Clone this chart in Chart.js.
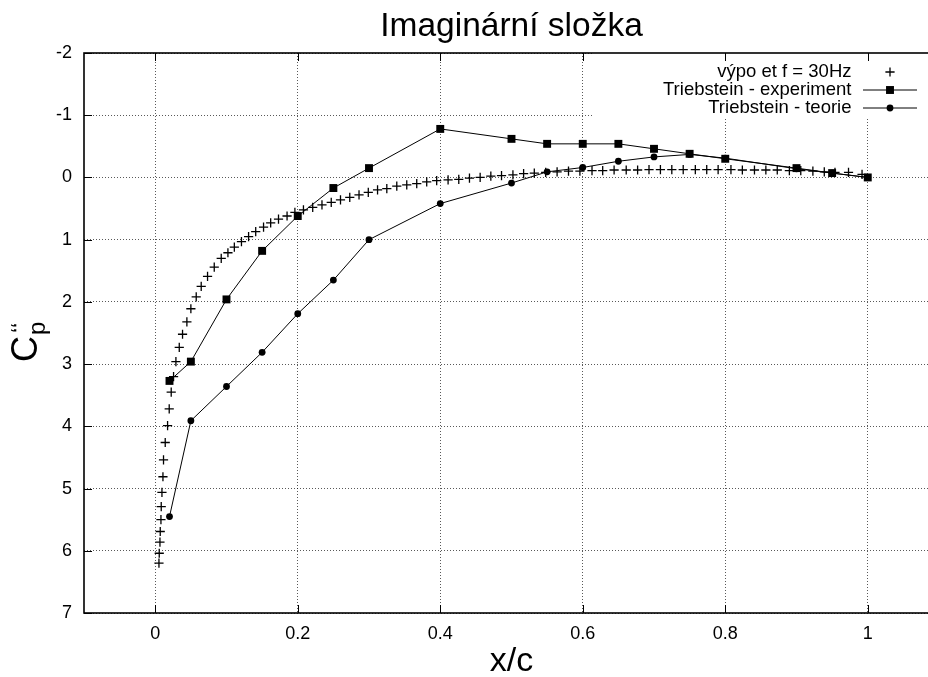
<!DOCTYPE html>
<html>
<head>
<meta charset="utf-8">
<script src="https://cdn.jsdelivr.net/npm/chart.js@4/dist/chart.umd.min.js"></script>
<style>
  html, body { margin: 0; padding: 0; background: #fff; overflow: hidden; }
  #wrap { width: 945px; height: 677px; }
</style>
</head>
<body>
<div id="wrap"><canvas id="cpChart" width="945" height="677"></canvas></div>
<script>
const FONT = '"Liberation Sans", Arial, Helvetica, sans-serif';

// Axis ticks
const xTicks = [0, 0.2, 0.4, 0.6, 0.8, 1];
const yTicks = [-2, -1, 0, 1, 2, 3, 4, 5, 6, 7];

// Computed values, f = 30 Hz
const calcX = [0.0052, 0.0056, 0.0066, 0.0070, 0.0080, 0.0084, 0.0094, 0.0108, 0.0116, 0.0140,
  0.0173, 0.0196, 0.0224, 0.0257, 0.0290, 0.0337, 0.0383, 0.0444, 0.0500, 0.0575,
  0.0645, 0.0734, 0.0828, 0.0926, 0.102, 0.111, 0.121, 0.131, 0.141, 0.152,
  0.162, 0.173, 0.185, 0.196, 0.208, 0.221, 0.234, 0.247, 0.260, 0.273,
  0.286, 0.299, 0.312, 0.325, 0.339, 0.353, 0.367, 0.381, 0.395, 0.411,
  0.426, 0.441, 0.456, 0.471, 0.486, 0.502, 0.517, 0.532, 0.548, 0.564,
  0.580, 0.596, 0.613, 0.628, 0.644, 0.661, 0.677, 0.693, 0.709, 0.725,
  0.741, 0.758, 0.774, 0.790, 0.808, 0.824, 0.841, 0.857, 0.873, 0.890,
  0.906, 0.923, 0.939, 0.954, 0.973, 0.992];
const calcY = [6.20, 6.04, 5.86, 5.69, 5.50, 5.29, 5.06, 4.81, 4.54, 4.26,
  3.99, 3.72, 3.45, 3.20, 2.96, 2.73, 2.52, 2.32, 2.11, 1.92,
  1.75, 1.59, 1.44, 1.30, 1.21, 1.12, 1.03, 0.95, 0.87, 0.80,
  0.73, 0.67, 0.62, 0.56, 0.52, 0.48, 0.44, 0.40, 0.36, 0.32,
  0.28, 0.24, 0.20, 0.18, 0.14, 0.12, 0.10, 0.07, 0.05, 0.04,
  0.03, 0.01, 0.00, -0.02, -0.03, -0.04, -0.06, -0.07, -0.08, -0.09,
  -0.10, -0.10, -0.11, -0.11, -0.12, -0.12, -0.12, -0.125, -0.125, -0.125,
  -0.125, -0.125, -0.125, -0.125, -0.125, -0.12, -0.12, -0.12, -0.12, -0.11,
  -0.11, -0.10, -0.09, -0.08, -0.08, -0.05];

// Triebstein - experiment
const expX = [0.02, 0.05, 0.1, 0.15, 0.2, 0.25, 0.3, 0.4, 0.5, 0.55, 0.6, 0.65, 0.7, 0.75, 0.8, 0.9, 0.95, 1.0];
const expY = [3.27, 2.96, 1.96, 1.18, 0.62, 0.17, -0.15, -0.78, -0.62, -0.54, -0.54, -0.54, -0.46, -0.38, -0.30, -0.15, -0.07, 0.0];

// Triebstein - teorie
const theoX = [0.02, 0.05, 0.1, 0.15, 0.2, 0.25, 0.3, 0.4, 0.5, 0.55, 0.6, 0.65, 0.7, 0.75, 0.8, 0.9, 0.95, 1.0];
const theoY = [5.45, 3.91, 3.36, 2.81, 2.19, 1.65, 1.0, 0.42, 0.09, -0.09, -0.16, -0.26, -0.33, -0.37, -0.31, -0.14, -0.07, 0.0];

const toPoints = (xs, ys) => xs.map((x, i) => ({ x: x, y: ys[i] }));

// key box (grid is hidden behind it, like gnuplot does)
const KEY_LEFT = 593;
const KEY_BOTTOM = 119;
const KEY_TEXT_RIGHT = 851.5;
const KEY_ROW0 = 71.5;
const KEY_ROW_STEP = 18;

const gnuplotFrame = {
  id: 'gnuplotFrame',
  beforeDatasetsDraw(chart) {
    const { ctx, chartArea: a } = chart;
    ctx.save();
    ctx.fillStyle = '#fff';
    ctx.fillRect(KEY_LEFT, a.top, a.right - KEY_LEFT, KEY_BOTTOM - a.top);
    ctx.restore();
  },
  afterDraw(chart) {
    const { ctx, chartArea: a } = chart;
    const x = chart.scales.x, y = chart.scales.y;
    ctx.save();

    // inward tick marks on all four sides
    ctx.strokeStyle = '#000';
    ctx.lineWidth = 1;
    ctx.beginPath();
    xTicks.forEach(v => {
      const px = Math.round(x.getPixelForValue(v)) + 0.5;
      ctx.moveTo(px, a.bottom); ctx.lineTo(px, a.bottom - 8);
      ctx.moveTo(px, a.top); ctx.lineTo(px, a.top + 8);
    });
    yTicks.forEach(v => {
      const py = Math.round(y.getPixelForValue(v)) + 0.5;
      ctx.moveTo(a.left, py); ctx.lineTo(a.left + 8, py);
      ctx.moveTo(a.right, py); ctx.lineTo(a.right - 8, py);
    });
    ctx.stroke();

    // border
    ctx.lineWidth = 1.6;
    ctx.strokeRect(a.left, a.top, a.right - a.left, a.bottom - a.top);

    const cx = (a.left + a.right) / 2;
    ctx.fillStyle = '#000';
    ctx.textAlign = 'center';
    ctx.textBaseline = 'alphabetic';

    // title
    ctx.font = '33.5px ' + FONT;
    ctx.fillText('Imaginární složka', cx, 36);

    // x axis label
    ctx.font = '34px ' + FONT;
    ctx.fillText('x/c', cx, 671);

    // y axis label: C with subscript p and double prime
    ctx.save();
    ctx.translate(37, 362);
    ctx.rotate(-Math.PI / 2);
    ctx.textAlign = 'left';
    ctx.font = '36px ' + FONT;
    ctx.fillText('C', 0, 0);
    ctx.font = '24px ' + FONT;
    ctx.fillText('p', 27, 8);
    ctx.fillText('\u2018\u2018', 29, -9);
    ctx.restore();

    // key
    ctx.font = '18.5px ' + FONT;
    ctx.textAlign = 'right';
    ctx.textBaseline = 'middle';
    chart.data.datasets.forEach((ds, i) => {
      const ry = KEY_ROW0 + i * KEY_ROW_STEP;
      ctx.fillStyle = '#000';
      ctx.fillText(ds.label, KEY_TEXT_RIGHT, ry);
      if (ds.showLine) {
        ctx.strokeStyle = ds.borderColor;
        ctx.lineWidth = ds.borderWidth;
        ctx.beginPath();
        ctx.moveTo(863, ry + 0.5);
        ctx.lineTo(917, ry + 0.5);
        ctx.stroke();
      }
      ctx.strokeStyle = '#000';
      ctx.fillStyle = '#000';
      ctx.lineWidth = ds.pointBorderWidth || 1;
      Chart.helpers.drawPoint(ctx, {
        pointStyle: ds.pointStyle,
        radius: ds.pointRadius,
        borderWidth: ds.pointBorderWidth,
        rotation: 0
      }, 890, ry + 0.5);
    });

    ctx.restore();
  }
};

const axisFont = { family: FONT, size: 18 };
const gridOpts = { color: 'rgba(0,0,0,0.65)', lineWidth: 1, drawTicks: false };

new Chart(document.getElementById('cpChart'), {
  type: 'scatter',
  data: {
    datasets: [
      {
        label: 'výpo et f = 30Hz',
        data: toPoints(calcX, calcY),
        showLine: false,
        pointStyle: 'cross',
        pointRadius: 4.6,
        pointBorderWidth: 1.3,
        borderColor: '#000',
        backgroundColor: '#000'
      },
      {
        label: 'Triebstein - experiment',
        data: toPoints(expX, expY),
        showLine: true,
        borderColor: '#000',
        borderWidth: 1,
        pointStyle: 'rect',
        pointRadius: 5.6,
        pointBorderWidth: 0,
        pointBackgroundColor: '#000',
        backgroundColor: '#000'
      },
      {
        label: 'Triebstein - teorie',
        data: toPoints(theoX, theoY),
        showLine: true,
        borderColor: '#000',
        borderWidth: 1,
        pointStyle: 'circle',
        pointRadius: 3.4,
        pointBorderWidth: 0,
        pointBackgroundColor: '#000',
        backgroundColor: '#000'
      }
    ]
  },
  options: {
    responsive: false,
    animation: false,
    events: [],
    layout: { padding: { top: 53, right: 6, left: 0, bottom: 0 } },
    scales: {
      x: {
        type: 'linear',
        min: -0.1,
        max: 1.1,
        afterBuildTicks: s => { s.ticks = xTicks.map(v => ({ value: v })); },
        afterFit: s => { s.height = 64; },
        grid: gridOpts,
        border: { display: false, dash: [1, 2] },
        ticks: { color: '#000', font: axisFont, padding: 10, maxRotation: 0, callback: v => String(v) }
      },
      y: {
        type: 'linear',
        reverse: true,
        min: -2,
        max: 7,
        afterBuildTicks: s => { s.ticks = yTicks.map(v => ({ value: v })); },
        afterFit: s => { s.width = 84; },
        grid: gridOpts,
        border: { display: false, dash: [1, 2] },
        ticks: { color: '#000', font: axisFont, padding: 12, callback: v => String(v) }
      }
    },
    plugins: {
      legend: { display: false },
      tooltip: { enabled: false }
    }
  },
  plugins: [gnuplotFrame]
});
</script>
</body>
</html>
